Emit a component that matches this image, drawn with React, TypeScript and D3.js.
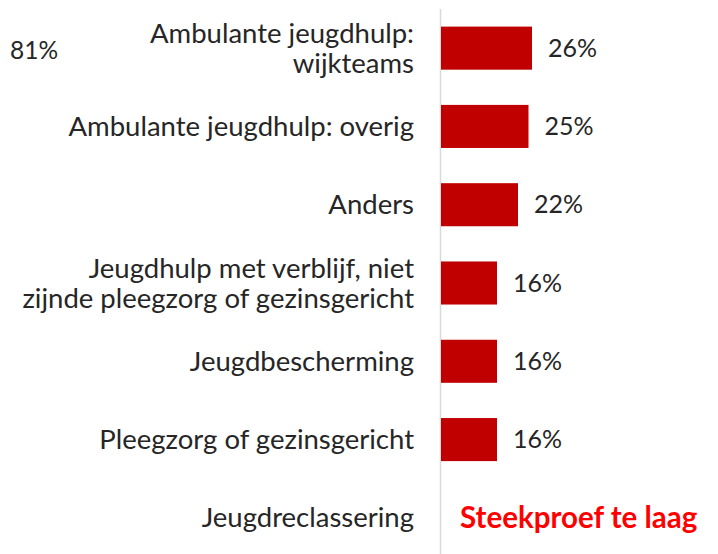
import { useMemo } from 'react';
import { scaleBand, scaleLinear } from 'd3';

const categories = [
  ['Ambulante jeugdhulp:', 'wijkteams'],
  ['Ambulante jeugdhulp: overig'],
  ['Anders'],
  ['Jeugdhulp met verblijf, niet', 'zijnde pleegzorg of gezinsgericht'],
  ['Jeugdbescherming'],
  ['Pleegzorg of gezinsgericht'],
  ['Jeugdreclassering'],
];

const values: (number | null)[] = [26, 25, 22, 16, 16, 16, null];

const totalLabel = '81%';
const lowSampleLabel = 'Steekproef te laag';

const width = 718,
  height = 554;

const font = 'Lato, "Open Sans", sans-serif';

export default function App() {
  const y = useMemo(
    () =>
      scaleBand<number>()
        .domain(categories.map((_, i) => i))
        .range([9, 557])
        .paddingInner(0.45)
        .paddingOuter(0.225),
    []
  );

  const x = useMemo(() => scaleLinear().domain([0, 26]).range([441, 532]), []);

  return (
    <svg
      width={width}
      height={height}
      style={{ position: 'absolute', left: 0, top: 0, background: '#fff' }}
    >
      <line x1={440.5} x2={440.5} y1={9} y2={557} stroke="#d9d9d9" strokeWidth={1.5} />
      <text x={10} y={50} dy="0.35em" fontFamily={font} fontSize={24.5} fill="#262626">
        {totalLabel}
      </text>
      {categories.map((lines, i) => {
        const cy = (y(i) ?? 0) + y.bandwidth() / 2;
        const lh = 30;
        const y0 = cy - ((lines.length - 1) * lh) / 2;
        const v = values[i];
        return (
          <g key={i}>
            <text
              x={414}
              textAnchor="end"
              fontFamily={font}
              fontSize={27.5}
              fill="#262626"
            >
              {lines.map((l, j) => (
                <tspan key={j} x={414} y={y0 + j * lh} dy="0.35em">
                  {l}
                </tspan>
              ))}
            </text>
            {v != null ? (
              <>
                <rect
                  x={x(0)}
                  y={y(i)}
                  width={x(v) - x(0)}
                  height={y.bandwidth()}
                  fill="#c00000"
                />
                <text
                  x={x(v) + 16}
                  y={cy}
                  dy="0.35em"
                  fontFamily={font}
                  fontSize={25}
                  fill="#262626"
                >
                  {v}%
                </text>
              </>
            ) : (
              <text
                x={460}
                y={cy}
                dy="0.35em"
                fontFamily={font}
                fontSize={29.5}
                fontWeight="bold"
                fill="#ff0000"
              >
                {lowSampleLabel}
              </text>
            )}
          </g>
        );
      })}
    </svg>
  );
}
